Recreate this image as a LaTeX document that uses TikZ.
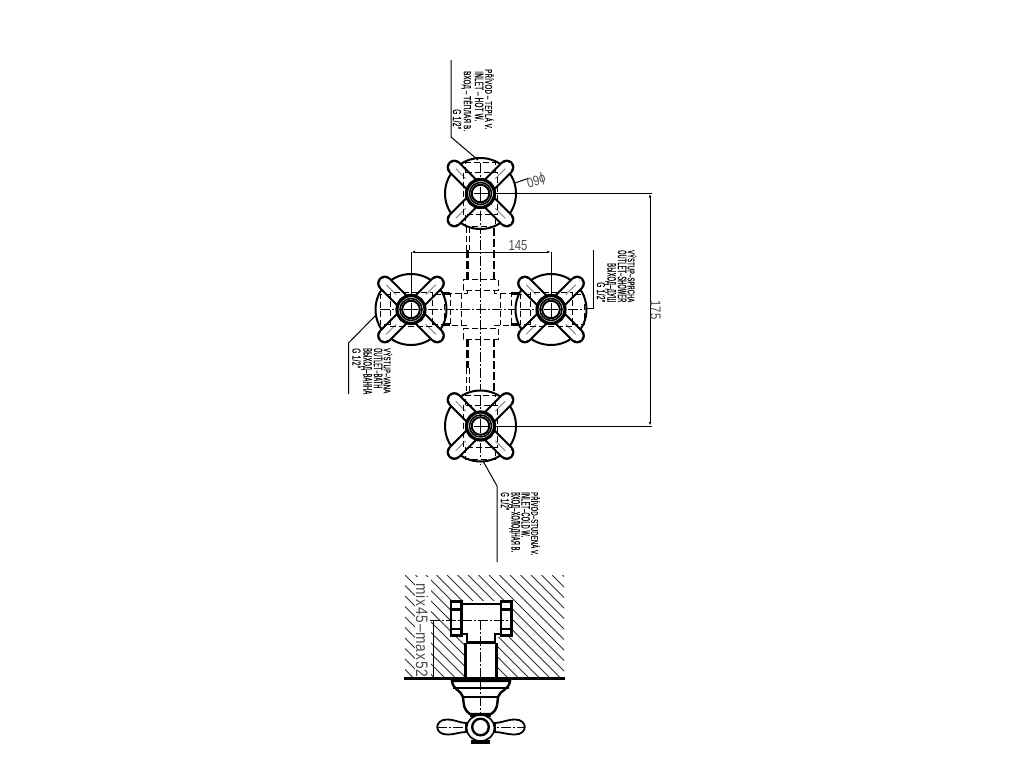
\documentclass[tikz,border=0pt]{standalone}
\usepackage{graphicx}
\usepackage{fontspec}
\setmainfont{Liberation Sans}
\newfontfamily\lblfont[FakeBold=0.25,LetterSpace=4]{Liberation Sans}
\usetikzlibrary{arrows.meta}
\definecolor{dimgray}{gray}{0.3}
\tikzset{
  thinl/.style={line width=1pt},
  thickl/.style={line width=2.4pt},
  dashl/.style={line width=1pt,dash pattern=on 6pt off 3pt},
  centerl/.style={line width=0.9pt,dash pattern=on 10pt off 2pt on 2pt off 2pt},
  thickdash/.style={line width=2.2pt,dash pattern=on 8pt off 3pt},
  dimarrow/.style={line width=1pt,{Latex[length=4pt,width=2.5pt]}-{Latex[length=4pt,width=2.5pt]}},
  lbl/.style={anchor=west,rotate=-90,inner sep=0pt}
}
% name, x, y of text start, length, text
\newcommand{\vlabel}[5]{\node[lbl] (#1) at (#2,#3) {\resizebox{#4pt}{8.5pt}{\lblfont\vphantom{Д}#5}};}
\newcommand{\onehandle}[1]{%
  \draw[line width=15.5pt,line cap=round] (#1:13) -- (#1:37);
  \draw[line width=11pt,line cap=round,white] (#1:11) -- (#1:37);
  \draw[line width=0.8pt,gray] (#1:21) -- (#1:35);
}
\newcommand{\valve}[3]{%
  \begin{scope}[shift={(#1,#2)}]
    \draw[line width=2pt,fill=white] (0,0) circle (35.5);
    \onehandle{45}\onehandle{135}\onehandle{225}\onehandle{315}
    \begin{scope}[rotate=#3]
      \draw[dashl] (-17,-21) rectangle (17,21);
      \draw[dashl] (-15,-21) -- (-15,-31) -- (15,-31) -- (15,-21);
      \draw[dashl] (-15,21) -- (-15,33) -- (15,33) -- (15,21);
      \draw[centerl] (0,-31) -- (0,33);
    \end{scope}
    \fill[white] (0,0) circle (15);
    \draw[line width=3.2pt] (0,0) circle (14);
    \draw[line width=1.5pt] (0,0) circle (11);
    \draw[line width=2pt] (0,0) circle (8.8);
    \draw[line width=0.8pt] (-7,0) -- (7,0) (0,-7) -- (0,7);
  \end{scope}
}
\begin{document}
\begin{tikzpicture}[x=1pt,y=-1pt]
\useasboundingbox (0,0) rectangle (1024,768);
\fill[white] (0,0) rectangle (1024,768);

% ---- centre lines
\draw[centerl] (480.5,160) -- (480.5,465);
\draw[centerl] (380,309) -- (585,309);

% ---- pipes
\draw[thickdash] (494,228) -- (494,279) (494,339) -- (494,392);
\draw[thickdash] (467.5,250) -- (467.5,279) (467.5,339) -- (467.5,368);
\draw[dashl] (466,227) -- (466,250) (469,227) -- (469,250);
\draw[dashl] (466,368) -- (466,391) (469,368) -- (469,391);

% ---- central body
\draw[dashl] (463,279) -- (498,279) -- (498,290) -- (463,290) -- cycle;
\draw[dashl] (463,328) -- (498,328) -- (498,339) -- (463,339) -- cycle;
\draw[dashl] (467,290) -- (467,293) -- (450,293) -- (450,325) -- (467,325) -- (467,328);
\draw[dashl] (461,293) -- (461,325);
\draw[dashl] (494,290) -- (494,293) -- (511,293) -- (511,325) -- (494,325) -- (494,328);
\draw[dashl] (500,293) -- (500,325);
\draw[thickl] (442,293.5) -- (450,293.5) (442,324.5) -- (450,324.5);
\draw[thickl] (511,293.5) -- (519,293.5) (511,324.5) -- (519,324.5);

% ---- valves
\valve{480.5}{193.5}{0}
\valve{480.5}{426}{0}
\valve{411}{309.5}{90}
\valve{551}{309.5}{90}

% ---- dimension 145
\coordinate (d145a) at (411,252);
\coordinate (d145b) at (551,252);
\draw[thinl] (411,252) -- (411,295) (551,252) -- (551,295);
\draw[dimarrow] (d145a) -- (d145b);
\node[inner sep=0pt,text=dimgray] (t145) at (518,245.5) {\resizebox{19pt}{10pt}{145}};

% ---- dimension 175
\coordinate (d175a) at (650,193.5);
\coordinate (d175b) at (650,426);
\draw[thinl] (495,193.5) -- (651.5,193.5) (495,426) -- (651.5,426);
\draw[dimarrow] (d175a) -- (d175b);
\node[inner sep=0pt,rotate=-90,text=dimgray] (t175) at (655.5,310) {\resizebox{19pt}{10pt}{175}};

% ---- dimension phi 60
\draw[thinl] (515,183) -- (528,178.5);
\node[inner sep=0pt,rotate=195,text=dimgray] (tphi) at (536,180) {\resizebox{19pt}{10pt}{ϕ60}};

% ---- top label
\draw[thinl] (451,60) -- (451,137) -- (478,160);
\vlabel{a1}{488.5}{69}{60}{PŘÍVOD – TEPLÁ V.}
\vlabel{a2}{478}{71}{50}{INLET – HOT W.}
\vlabel{a3}{467}{71}{60}{ВХОД – ТЁПЛАЯ В.}
\vlabel{a4}{456}{109}{20}{G 1/2"}

% ---- right label
\draw[thinl] (593.5,250) -- (593.5,308) -- (586,308);
\vlabel{b1}{631}{250}{52}{VÝSTUP–SPRCHA}
\vlabel{b2}{621}{250}{52}{OUTLET–SHOWER}
\vlabel{b3}{610.5}{263}{39}{ВЫХОД–ДУШ}
\vlabel{b4}{600}{282}{20}{G 1/2"}

% ---- left label
\draw[thinl] (348.5,394) -- (348.5,343) -- (376,315);
\vlabel{c1}{387}{348}{45}{VÝSTUP–VANA}
\vlabel{c2}{377}{348}{40}{OUTLET–BATH}
\vlabel{c3}{366.5}{348}{46}{ВЫХОД–ВАННА}
\vlabel{c4}{355.5}{348}{20}{G 1/2"}

% ---- bottom label
\draw[thinl] (483,461) -- (497,486) -- (497,562);
\vlabel{e1}{534.5}{492}{63}{PŘÍVOD–STUDENÁ V.}
\vlabel{e2}{524.5}{492}{45}{INLET–COLD W.}
\vlabel{e3}{514.5}{492}{60}{ВХОД–ХОЛОДНАЯ В.}
\vlabel{e4}{504}{492}{18}{G 1/2"}

% ---- lower view: hatching
\begin{scope}
  \clip (405,575) rectangle (564,678);
  \foreach \i in {-105,-94.5,...,160} {
    \draw[line width=0.8pt,black!80] (405+\i,575) -- (405+\i+103,678);
  }
\end{scope}

% ---- dimension mix/max
\fill[white] (415,577) rectangle (431,677);
\node[rotate=-90,inner sep=0pt,anchor=west,text=dimgray] (tmix) at (422,583) {\resizebox{94pt}{12pt}{\addfontfeature{LetterSpace=6}mix45–max52}};
\draw[thinl] (433,620) -- (433,678);

% ---- fitting
\fill[white] (450,601) rectangle (512,637);
\fill[white] (465,633) rectangle (497,678);
\draw[line width=2.8pt] (451,601.5) rectangle (461.5,635.5);
\draw[line width=2.8pt] (501,601.5) rectangle (511.5,635.5);
\draw[line width=2.4pt] (451,609.5) -- (461.5,609.5) (451,629) -- (461.5,629);
\draw[line width=2.4pt] (501,609.5) -- (511.5,609.5) (501,629) -- (511.5,629);
\draw[line width=2.8pt] (461.5,604) -- (501,604);
\draw[line width=2.8pt] (461.5,634) -- (467,634) -- (467,642.5) -- (495,642.5) -- (495,634) -- (501,634);
\draw[line width=3pt] (465.5,642.5) -- (465.5,678) (496.5,642.5) -- (496.5,678);
\draw[centerl] (430,620) -- (514,620);
\draw[centerl] (480.5,620) -- (480.5,717);

% ---- wall line
\draw[line width=2.6pt] (404,678.5) -- (565,678.5);

% ---- escutcheon
\draw[thickl,fill=white] (452,681) .. controls (453,690) and (461,690) .. (463,697)
  .. controls (464,705) and (463,709) .. (470,714) -- (491,714)
  .. controls (498,709) and (497,705) .. (498,697)
  .. controls (500,690) and (509,690) .. (510,681) -- cycle;
\draw[line width=2pt] (453,688) -- (509,688);
\draw[line width=2pt] (463,696.5) -- (498,696.5);
\draw[centerl] (480.5,680) -- (480.5,714);

% ---- lower handle
\draw[line width=1.8pt,fill=white] (466,723) .. controls (460,723) and (455,719.5) .. (447,719.5)
  .. controls (434,719.5) and (434,734.5) .. (447,734.5)
  .. controls (455,734.5) and (460,732) .. (466,732) -- cycle;
\draw[line width=1.8pt,fill=white] (495,723) .. controls (501,723) and (507,719.5) .. (515,719.5)
  .. controls (528,719.5) and (528,734.5) .. (515,734.5)
  .. controls (507,734.5) and (501,732) .. (495,732) -- cycle;
\draw[centerl] (437,727) -- (525,727);
\draw[line width=3pt,fill=white] (470,715) -- (491,715);
\draw[line width=1.6pt,fill=white] (480.5,728) ellipse (14 and 13);
\draw[line width=3.5pt] (471,742) -- (490,742);
\draw[thickl,fill=white] (480.5,727) circle (8.3);
\end{tikzpicture}
\end{document}
